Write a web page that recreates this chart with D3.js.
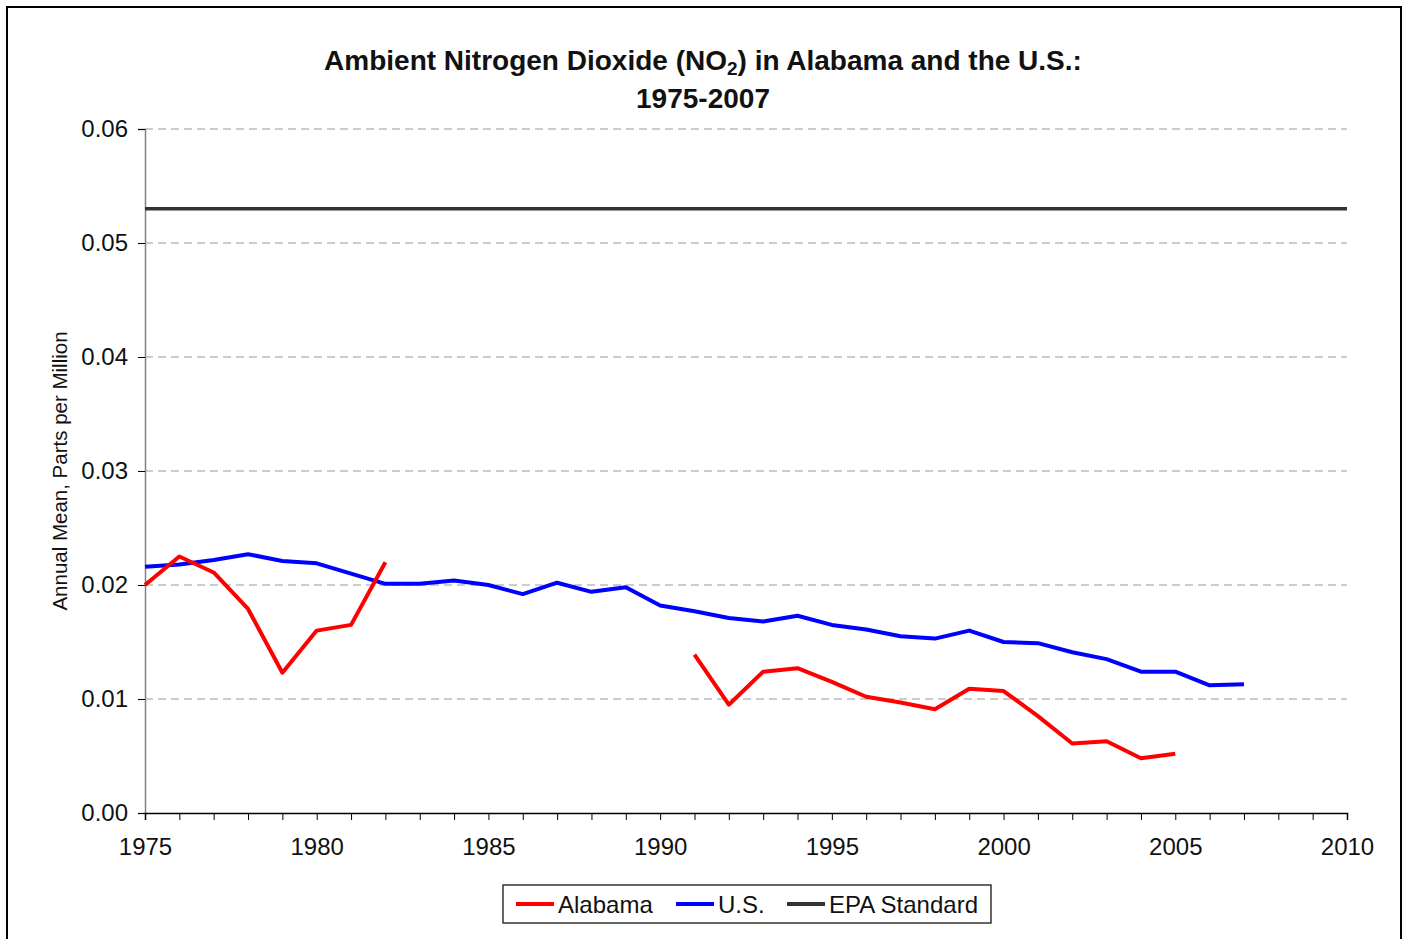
<!DOCTYPE html>
<html>
<head>
<meta charset="utf-8">
<script src="https://cdn.jsdelivr.net/npm/d3@7"></script>
<style>
  body { margin: 0; background: #fff; }
  svg { display: block; font-family: "Liberation Sans", Arial, sans-serif; }
</style>
</head>
<body>
<svg id="chart" width="1404" height="939"></svg>
<script>
var years = d3.range(1975, 2008),
    // Alabama annual mean NO2 (ppm), gap 1983-1990
    alabama = [0.0200, 0.0225, 0.0211, 0.0179, 0.0123, 0.0160, 0.0165, 0.0220,
               null, null, null, null, null, null, null, null,
               0.0139, 0.0095, 0.0124, 0.0127, 0.0115, 0.0102, 0.0097, 0.0091,
               0.0109, 0.0107, 0.0085, 0.0061, 0.0063, 0.0048, 0.0052, null, null],
    us = [0.0216, 0.0218, 0.0222, 0.0227, 0.0221, 0.0219, 0.0210, 0.0201,
          0.0201, 0.0204, 0.0200, 0.0192, 0.0202, 0.0194, 0.0198, 0.0182,
          0.0177, 0.0171, 0.0168, 0.0173, 0.0165, 0.0161, 0.0155, 0.0153,
          0.0160, 0.0150, 0.0149, 0.0141, 0.0135, 0.0124, 0.0124, 0.0112, 0.0113],
    epaYears = [1975, 2010],
    epaValue = 0.053,
    yTicks = [0, 0.01, 0.02, 0.03, 0.04, 0.05, 0.06],
    xLabelTicks = [1975, 1980, 1985, 1990, 1995, 2000, 2005, 2010],
    legendNames = ["Alabama", "U.S.", "EPA Standard"],
    legendColors = ["#ff0000", "#0000ff", "#333333"];

var svg = d3.select("#chart");

// outer frame
svg.append("rect")
    .attr("x", 7).attr("y", 7)
    .attr("width", 1394).attr("height", 940)
    .attr("fill", "none").attr("stroke", "#000").attr("stroke-width", 2);

var x = d3.scaleLinear().domain([1975, 2010]).range([145, 1347]),
    y = d3.scaleLinear().domain([0, 0.06]).range([813, 129]);

// title
var title = svg.append("text")
    .attr("x", 703).attr("y", 70)
    .attr("text-anchor", "middle")
    .style("font-size", "28px").style("font-weight", "bold").attr("fill", "#111");
title.append("tspan").text("Ambient Nitrogen Dioxide (NO");
title.append("tspan").text("2").style("font-size", "19px").attr("dy", 5);
title.append("tspan").text(") in Alabama and the U.S.:").attr("dy", -5);
svg.append("text")
    .attr("x", 703).attr("y", 108)
    .attr("text-anchor", "middle")
    .style("font-size", "28px").style("font-weight", "bold").attr("fill", "#111")
    .text("1975-2007");

// gridlines
svg.append("g").selectAll("line")
    .data(yTicks.filter(function (d) { return d > 0; }))
    .enter().append("line")
    .attr("x1", x(1975)).attr("x2", x(2010))
    .attr("y1", function (d) { return y(d); })
    .attr("y2", function (d) { return y(d); })
    .attr("stroke", "#999").attr("stroke-width", 1)
    .attr("stroke-dasharray", "8,5");

// y axis
var yAxis = svg.append("g")
    .attr("transform", "translate(" + x(1975) + ",0)")
    .call(d3.axisLeft(y).tickValues(yTicks).tickFormat(d3.format(".2f")).tickSize(7).tickPadding(10));
yAxis.select(".domain").attr("stroke", "#808080").attr("stroke-width", 1.5);
yAxis.selectAll(".tick line").attr("stroke", "#000");
yAxis.selectAll("text").style("font-size", "24px").attr("fill", "#111")
    .attr("font-family", "Liberation Sans, Arial, sans-serif");

// x axis
var xAxis = svg.append("g")
    .attr("transform", "translate(0," + y(0) + ")")
    .call(d3.axisBottom(x).tickValues(d3.range(1975, 2011)).tickSize(7).tickPadding(18)
        .tickFormat(function (d) { return xLabelTicks.indexOf(d) >= 0 ? d : ""; }));
xAxis.select(".domain").attr("stroke", "#000").attr("stroke-width", 1.5);
xAxis.selectAll("text").style("font-size", "24px").attr("fill", "#111")
    .attr("font-family", "Liberation Sans, Arial, sans-serif");

// y axis label
svg.append("text")
    .attr("transform", "translate(67,471) rotate(-90)")
    .attr("text-anchor", "middle")
    .style("font-size", "20.5px").attr("fill", "#111")
    .text("Annual Mean, Parts per Million");

var line = d3.line()
    .defined(function (d) { return d[1] != null; })
    .x(function (d) { return x(d[0]); })
    .y(function (d) { return y(d[1]); });

// EPA standard
svg.append("path")
    .datum(epaYears.map(function (yr) { return [yr, epaValue]; }))
    .attr("d", line)
    .attr("fill", "none").attr("stroke", legendColors[2]).attr("stroke-width", 3.5);

// U.S.
svg.append("path")
    .datum(years.map(function (yr, i) { return [yr, us[i]]; }))
    .attr("d", line)
    .attr("fill", "none").attr("stroke", legendColors[1]).attr("stroke-width", 4)
    .attr("stroke-linejoin", "round");

// Alabama
svg.append("path")
    .datum(years.map(function (yr, i) { return [yr, alabama[i]]; }))
    .attr("d", line)
    .attr("fill", "none").attr("stroke", legendColors[0]).attr("stroke-width", 4)
    .attr("stroke-linejoin", "round");

// legend
svg.append("rect")
    .attr("x", 503).attr("y", 885).attr("width", 488).attr("height", 38)
    .attr("fill", "#fff").attr("stroke", "#000").attr("stroke-width", 1.2);
var legX = [516, 676, 787];
var leg = svg.append("g").selectAll("g")
    .data(legendNames)
    .enter().append("g")
    .attr("transform", function (d, i) { return "translate(" + legX[i] + ",904)"; });
leg.append("line")
    .attr("x1", 0).attr("x2", 38).attr("y1", 0).attr("y2", 0)
    .attr("stroke", function (d, i) { return legendColors[i]; })
    .attr("stroke-width", 4);
leg.append("text")
    .attr("x", 42).attr("y", 9)
    .style("font-size", "24px").attr("fill", "#111")
    .text(function (d) { return d; });
</script>
</body>
</html>
